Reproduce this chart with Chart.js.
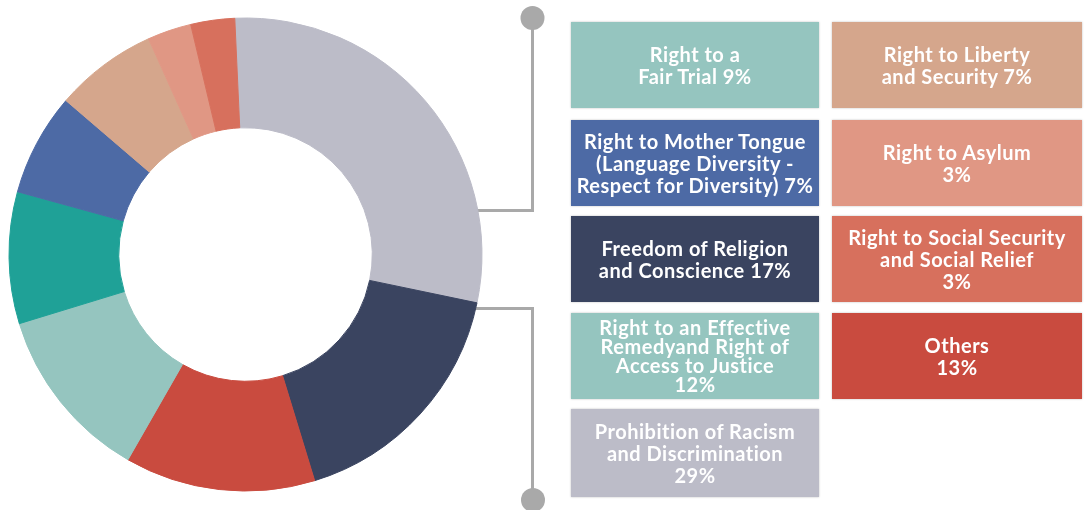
<!DOCTYPE html>
<html>
<head>
<meta charset="utf-8">
<script src="https://cdn.jsdelivr.net/npm/chart.js@4/dist/chart.umd.min.js"></script>
<style>
  html, body { margin: 0; padding: 0; background: #ffffff; }
  #wrap { position: relative; width: 1084px; height: 510px; overflow: hidden; }
  #chart { position: absolute; left: 0; top: 0; }
  .box {
    position: absolute;
    display: flex; flex-direction: column; align-items: center; justify-content: center;
    color: #ffffff; font-family: Lato, "Open Sans", sans-serif; font-weight: 700;
    font-size: 20px; letter-spacing: 0.5px; line-height: 22px; text-align: center; white-space: nowrap;
    box-shadow: 0 0 2px rgba(0,0,0,0.25);
  }
</style>
</head>
<body>
<div id="wrap">
  <canvas id="chart" width="1084" height="510"></canvas>
</div>
<script>
// ---- data (doughnut order, clockwise from top) ----
const categories = [
  'Prohibition of Racism and Discrimination',
  'Freedom of Religion and Conscience',
  'Others',
  'Right to an Effective Remedyand Right of Access to Justice',
  'Right to a Fair Trial',
  'Right to Mother Tongue (Language Diversity - Respect for Diversity)',
  'Right to Liberty and Security',
  'Right to Asylum',
  'Right to Social Security and Social Relief'
];
const values = [29, 17, 13, 12, 9, 7, 7, 3, 3];
const sliceColors = ['#bcbcc8', '#3a4460', '#c94b3f', '#95c5bf', '#1fa197', '#4d6aa5', '#d5a68c', '#e09784', '#d7705d'];
const boxColors   = ['#bcbcc8', '#3a4460', '#c94b3f', '#95c5bf', '#95c5bf', '#4d6aa5', '#d5a68c', '#e09784', '#d7705d'];
// legend text lines; "#" is replaced by the value
const legendLines = [
  ['Prohibition of Racism', 'and Discrimination', '#%'],
  ['Freedom of Religion', 'and Conscience #%'],
  ['Others', '#%'],
  ['Right to an Effective', 'Remedyand Right of', 'Access to Justice', '#%'],
  ['Right to a', 'Fair Trial #%'],
  ['Right to Mother Tongue', '(Language Diversity -', 'Respect for Diversity) #%'],
  ['Right to Liberty', 'and Security #%'],
  ['Right to Asylum', '#%'],
  ['Right to Social Security', 'and Social Relief', '#%']
];
// legend grid columns (category indices, top to bottom)
const legendLeft  = [4, 5, 1, 3, 0];
const legendRight = [6, 7, 8, 2];

// ---- legend boxes (HTML text) ----
const wrap = document.getElementById('wrap');
const rowTops = [22, 120, 216, 313, 409];
const rowHeights = [86, 86, 86, 86, 88];
function addBox(idx, x, w, row) {
  const d = document.createElement('div');
  d.className = 'box';
  d.style.left = x + 'px';
  d.style.top = rowTops[row] + 'px';
  d.style.width = w + 'px';
  d.style.height = rowHeights[row] + 'px';
  d.style.background = boxColors[idx];
  if (legendLines[idx].length === 4) d.style.lineHeight = '19px';
  legendLines[idx].forEach(t => {
    const s = document.createElement('div');
    s.textContent = t.replace('#', values[idx]);
    d.appendChild(s);
  });
  wrap.appendChild(d);
}
legendLeft.forEach((idx, r) => addBox(idx, 571, 248, r));
legendRight.forEach((idx, r) => addBox(idx, 832, 250, r));

// ---- connector decoration ----
const connectors = {
  id: 'connectors',
  beforeDatasetsDraw(chart) {
    const ctx = chart.ctx;
    ctx.save();
    ctx.strokeStyle = '#a9a9a9';
    ctx.fillStyle = '#a9a9a9';
    ctx.lineWidth = 3;
    ctx.beginPath();
    ctx.moveTo(532.5, 18); ctx.lineTo(532.5, 210.5); ctx.lineTo(460, 210.5);
    ctx.moveTo(532.5, 500); ctx.lineTo(532.5, 308.5); ctx.lineTo(460, 308.5);
    ctx.stroke();
    ctx.beginPath(); ctx.arc(532.5, 18, 12, 0, Math.PI * 2); ctx.fill();
    ctx.beginPath(); ctx.arc(533, 500, 12, 0, Math.PI * 2); ctx.fill();
    ctx.restore();
  }
};

new Chart(document.getElementById('chart'), {
  type: 'doughnut',
  data: {
    labels: categories,
    datasets: [{
      data: values,
      backgroundColor: sliceColors,
      borderColor: sliceColors,
      borderWidth: 1,
      hoverOffset: 0
    }]
  },
  options: {
    responsive: false,
    animation: false,
    rotation: -2.6,
    cutout: '53.6%',
    layout: { padding: { left: 8, top: 17.5, right: 601, bottom: 18.5 } },
    plugins: { legend: { display: false }, tooltip: { enabled: false } }
  },
  plugins: [connectors]
});
</script>
</body>
</html>
